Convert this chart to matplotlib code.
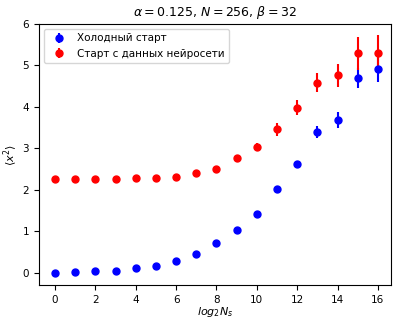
import numpy as np
import matplotlib
matplotlib.use("Agg")
import matplotlib.pyplot as plt

log_ns = np.arange(17)
cold = [0.0, 0.02, 0.04, 0.06, 0.11, 0.18, 0.30, 0.45, 0.72, 1.03, 1.43,
        2.03, 2.63, 3.40, 3.69, 4.69, 4.91]
cold_err = [0.01, 0.01, 0.01, 0.01, 0.01, 0.02, 0.02, 0.03, 0.03, 0.04, 0.05,
            0.06, 0.08, 0.14, 0.2, 0.24, 0.3]
nn = [2.27, 2.27, 2.27, 2.27, 2.29, 2.29, 2.32, 2.41, 2.50, 2.76, 3.04,
      3.46, 3.98, 4.59, 4.76, 5.29, 5.31]
nn_err = [0.05, 0.05, 0.05, 0.05, 0.05, 0.05, 0.05, 0.05, 0.06, 0.08, 0.1,
          0.15, 0.18, 0.23, 0.27, 0.39, 0.43]

fig = plt.figure(figsize=(3.93, 3.2), dpi=100)
ax = fig.add_axes([0.099, 0.108, 0.896, 0.817])
ax.errorbar(log_ns, cold, yerr=cold_err, fmt='o', color='b', ms=5, label='Холодный старт')
ax.errorbar(log_ns, nn, yerr=nn_err, fmt='o', color='r', ms=5, label='Старт с данных нейросети')
ax.set_xlim(-0.8, 16.65)
ax.set_ylim(-0.3, 6.0)
ax.set_xticks(range(0, 17, 2))
ax.tick_params(labelsize=7.5)
ax.set_xlabel(r'$log_2N_s$', fontsize=8, labelpad=0)
ax.set_ylabel(r'$\langle x^2 \rangle$', fontsize=8, labelpad=2)
ax.set_title(r'$\alpha = 0.125$, $N = 256$, $\beta = 32$', fontsize=9)
ax.legend(loc='upper left', fontsize=7.5)
fig.savefig('out.png')
